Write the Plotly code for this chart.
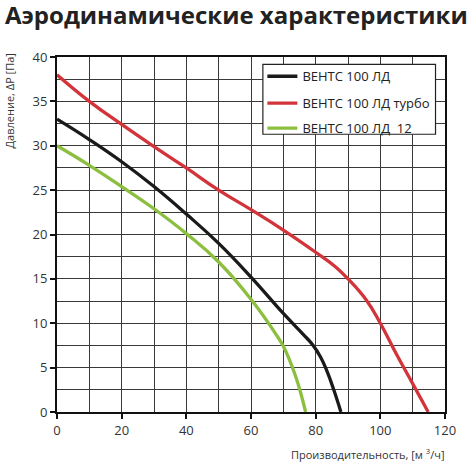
import plotly.graph_objects as go

# Data
black_x = [0, 10, 20, 30, 40, 50, 60, 70, 76, 79, 81.5, 83.5, 85.6, 87.8]
black_y = [33, 30.7, 28.2, 25.4, 22.3, 19.0, 15.2, 11.1, 8.8, 7.6, 6.2, 4.6, 2.5, 0]
red_x = [0, 10, 20, 30, 40, 50, 60, 70, 80, 86, 90, 95.7, 100, 105, 110, 114.8]
red_y = [38, 35.0, 32.4, 29.9, 27.5, 25.0, 22.8, 20.5, 18.0, 16.4, 15.0, 12.6, 10.0, 6.5, 3.2, 0]
green_x = [0, 10, 20, 30, 40, 50, 60, 68, 70, 72, 74, 75.1, 76.9]
green_y = [30, 27.8, 25.4, 22.9, 20.1, 16.9, 12.7, 8.6, 7.4, 5.8, 3.8, 2.5, 0]

names = ["ВЕНТС 100 ЛД", "ВЕНТС 100 ЛД турбо", "ВЕНТС 100 ЛД  12"]
colors = ["#1a1a1a", "#d2343a", "#8cbf3f"]

x_ticks = [0, 20, 40, 60, 80, 100, 120]
y_ticks = [0, 5, 10, 15, 20, 25, 30, 35, 40]

L, R, T, B = 56.7, 28.5, 56.7, 52.1
W, H = 474, 464
pw, ph = W - L - R, H - T - B

def px_x(p):
    return (p - L) / pw

def px_y(p):
    return (H - B - p) / ph

legend_keys = ["legend", "legend2", "legend3"]
row_y = [76, 103, 128]

fig = go.Figure()
for xs, ys, n, c, lk in zip([black_x, red_x, green_x], [black_y, red_y, green_y], names, colors, legend_keys):
    fig.add_trace(go.Scatter(x=xs, y=ys, mode="lines", name=n, legend=lk,
                             line=dict(color=c, width=3.3, shape="spline", smoothing=1.3)))

legend_common = dict(xanchor="left", yanchor="middle", bgcolor="rgba(0,0,0,0)",
                     borderwidth=0, font=dict(size=13, color="#222",
                                              family="Open Sans, DejaVu Sans, sans-serif"),
                     itemwidth=30)
layout_legends = {}
for lk, ry in zip(legend_keys, row_y):
    layout_legends[lk] = dict(x=px_x(262.5), y=px_y(ry), **legend_common)

axis_common = dict(showgrid=True, gridcolor="#3a3a3a", gridwidth=1,
                   showline=True, linecolor="#111", linewidth=2, mirror=True,
                   ticks="outside", ticklen=5, tickcolor="#111", tickwidth=1.5,
                   zeroline=False, tickfont=dict(size=13, color="#333"))

fig.update_layout(
    width=W, height=H,
    margin=dict(l=L, r=R, t=T, b=B, autoexpand=False),
    paper_bgcolor="white", plot_bgcolor="white",
    font=dict(family="Open Sans, DejaVu Sans, sans-serif", color="#333", size=12),
    showlegend=True,
    xaxis=dict(range=[0, 120], tickvals=x_ticks, ticktext=[str(v) for v in x_ticks],
               minor=dict(tickvals=list(range(0, 121, 10)), showgrid=True,
                          gridcolor="#3a3a3a", gridwidth=1, ticks=""),
               **axis_common),
    yaxis=dict(range=[0, 40], tickvals=y_ticks, ticktext=[str(v) for v in y_ticks],
               minor=dict(tickvals=[v * 2.5 for v in range(17)], showgrid=True,
                          gridcolor="#3a3a3a", gridwidth=1, ticks=""),
               **axis_common),
    shapes=[dict(type="rect", xref="paper", yref="paper",
                 x0=px_x(263), x1=px_x(436), y0=px_y(134), y1=px_y(64),
                 fillcolor="white", line=dict(color="#222", width=1.2), layer="above")],
    annotations=[
        dict(text="<b>Аэродинамические характеристики</b>", xref="paper", yref="paper",
             x=0, y=1, xanchor="left", yanchor="top", showarrow=False,
             xshift=-54.5, yshift=61,
             font=dict(size=24, color="#222", family="Open Sans, DejaVu Sans, sans-serif")),
        dict(text="Давление, ΔР [Па]", xref="paper", yref="paper", x=0, y=1,
             xanchor="center", yanchor="top", textangle=-90, showarrow=False,
             xshift=-48, yshift=5, font=dict(size=11, color="#333")),
        dict(text="Производительность, [м <sup>3</sup>/ч]", xref="paper", yref="paper",
             x=1, y=0, xanchor="right", yanchor="bottom", showarrow=False,
             xshift=2, yshift=-B, font=dict(size=11, color="#333")),
    ],
    **layout_legends,
)

fig.write_html("out.html", config={"displayModeBar": False},
               post_script="document.body.style.margin='0px';")
